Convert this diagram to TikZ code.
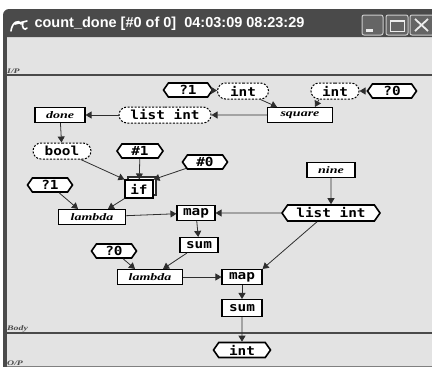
\documentclass[tikz,border=0pt]{standalone}
\usepackage{fontspec}
\usepackage{tikz}
\usetikzlibrary{arrows.meta,shapes.symbols,shapes.misc,shadows}
\newfontfamily\nodefont{DejaVu Sans Mono}[FakeStretch=1.15]
\newfontfamily\namefont{Liberation Serif}[FakeStretch=1.4]
\newfontfamily\titlefont{Liberation Sans}
\definecolor{barbg}{HTML}{4A4A4A}
\definecolor{panelbg}{HTML}{E3E3E3}
\definecolor{wire}{HTML}{2E2E2E}
\tikzset{
  fnbox/.style={draw, fill=white, line width=1.1pt, minimum height=15pt, inner sep=1pt,
    font=\namefont\bfseries\itshape\fontsize{10}{10}\selectfont},
  primbox/.style={draw, fill=white, line width=1.1pt, minimum height=15pt, inner sep=1pt,
    font=\nodefont\bfseries\fontsize{12.5}{13}\selectfont},
  typnode/.style={rounded rectangle, draw, fill=white, line width=1pt,
    dash pattern=on 2pt off 1.5pt, minimum height=16pt, inner sep=1pt,
    font=\nodefont\bfseries\fontsize{12.5}{13}\selectfont},
  hexnode/.style={signal, signal to=west and east, signal pointer angle=110, draw, fill=white,
    line width=1.6pt, minimum height=14pt, inner sep=1pt,
    font=\nodefont\bfseries\fontsize{12.5}{13}\selectfont},
  wire/.style={-{Triangle[length=6pt,width=7pt]}, draw=wire, line width=0.8pt},
  paneltag/.style={anchor=south west, inner sep=0pt, text=barbg,
    font=\namefont\bfseries\itshape\fontsize{7}{7}\selectfont}
}

\begin{document}
\begin{tikzpicture}[x=1pt, y=-1pt]
    \useasboundingbox (0,0) rectangle (432,367);

    % window
    \fill[panelbg] (3,37) rectangle (432,367);
    \fill[barbg] (3,37) [rounded corners=6pt] -- (3,9) [sharp corners] -- (432,9) -- (432,37) -- cycle;
    \fill[barbg] (3,37) rectangle (7,367);
    \node[anchor=west, text=white, font=\titlefont\bfseries\fontsize{14.5}{15}\selectfont]
      (title) at (31,24) {count\_done [\#0 of 0]\ \ 04:03:09 08:23:29};
    % title icon
    \draw[white, line width=1.6pt, line cap=round] (11,31) .. controls (12,22) and (19,19) .. (21,24)
      (15,24) -- (27,21) (23,22) .. controls (21,28) and (25,31) .. (27,28);
    % buttons
    \draw[gray!40, line width=1pt, fill=barbg!85, rounded corners=2pt] (362,15) rectangle (383,35);
    \fill[white!85!gray] (366,29) rectangle (373,32);
    \draw[gray!40, line width=1pt, fill=barbg!85, rounded corners=2pt] (386,15) rectangle (408,35);
    \draw[white!85!gray, line width=1pt] (390,20) rectangle (404,31);
    \draw[white!85!gray, line width=2pt] (390,21) -- (404,21);
    \draw[gray!40, line width=1pt, fill=barbg!85, rounded corners=2pt] (410,15) rectangle (434,35);
    \draw[white!85!gray, line width=1.8pt] (415,19) -- (428,31) (428,19) -- (415,31);

    % panel rules
    \draw[barbg, line width=1.2pt] (7,75) -- (432,75);
    \draw[barbg, line width=1.2pt] (7,333) -- (432,333);
    \draw[barbg!70, line width=1pt] (7,366) -- (432,366);
    \node[paneltag] (tagin) at (7,74) {I/P};
    \node[paneltag] (tagbody) at (7,332) {Body};
    \node[paneltag] (tagout) at (7,366) {O/P};

    % square branch
    \node (qa) at (188,90) [hexnode, minimum width=49pt] {?1};
    \node (ta) at (243,91) [typnode, minimum width=53pt] {int};
    \node (tb) at (335,91) [typnode, minimum width=50pt] {int};
    \node (qb) at (392,91) [hexnode, minimum width=49pt] {?0};
    \node (sq) at (300,115) [fnbox, minimum width=65pt] {square};
    \node (tl) at (165,115) [typnode, minimum width=94pt] {list int};
    \node (done) at (60,115) [fnbox, minimum width=50pt] {done};
    \node (tbool) at (62,151) [typnode, minimum width=60pt] {bool};

    % if and lambdas
    \node (ha) at (140,151) [hexnode, minimum width=46pt] {\#1};
    \node (hb) at (205,162) [hexnode, minimum width=45pt] {\#0};
    \node (cond) at (139,189) [primbox, minimum width=28pt, minimum height=18pt,
      copy shadow={shadow xshift=3pt, shadow yshift=3pt, fill=white, draw=wire}] {if};
    \node (qc) at (50,185) [hexnode, minimum width=45pt] {?1};
    \node (lama) at (92,217) [fnbox, minimum width=67pt] {lambda};
    \node (nine) at (331,170) [fnbox, minimum width=48pt] {nine};
    \node (tls) at (331,213) [hexnode, minimum width=98pt, minimum height=16pt] {list int};
    \node (mapa) at (196,213) [primbox, minimum width=38pt] {map};
    \node (suma) at (199,245) [primbox, minimum width=38pt] {sum};
    \node (qd) at (114,251) [hexnode, minimum width=45pt] {?0};
    \node (lamb) at (150,277) [fnbox, minimum width=65pt] {lambda};
    \node (mapb) at (242,277) [primbox, minimum width=40pt] {map};
    \node (sumb) at (242,308) [primbox, minimum width=40pt, minimum height=17pt] {sum};
    \node (res) at (242,350) [hexnode, minimum width=57pt, minimum height=15pt] {int};

    % connectors
    \draw[wire] (qa) -- (ta);
    \draw[wire] (ta.south east) -- ([xshift=-23pt]sq.north);
    \draw[wire] (tb.south west) -- ([xshift=15pt]sq.north);
    \draw[wire] (qb) -- (tb);
    \draw[wire] (sq) -- (tl);
    \draw[wire] (tl) -- (done);
    \draw[wire] (done) -- (tbool);
    \draw[wire] (tbool) -- (cond.north west);
    \draw[wire] (ha) -- (cond);
    \draw[wire] (hb) -- (cond.north east);
    \draw[wire] (cond.south west) -- ([xshift=16pt]lama.north);
    \draw[wire] (qc) -- ([xshift=-14pt]lama.north);
    \draw[wire] (lama) -- (mapa);
    \draw[wire] (nine) -- (tls);
    \draw[wire] (tls) -- (mapa);
    \draw[wire] (mapa) -- (suma);
    \draw[wire] (suma) -- ([xshift=13pt]lamb.north);
    \draw[wire] (qd) -- ([xshift=-15pt]lamb.north);
    \draw[wire] (lamb) -- (mapb);
    \draw[wire] ([xshift=-14pt]tls.south) -- (mapb.north east);
    \draw[wire] (mapb) -- (sumb);
    \draw[wire] (sumb) -- (res);
\end{tikzpicture}
\end{document}
